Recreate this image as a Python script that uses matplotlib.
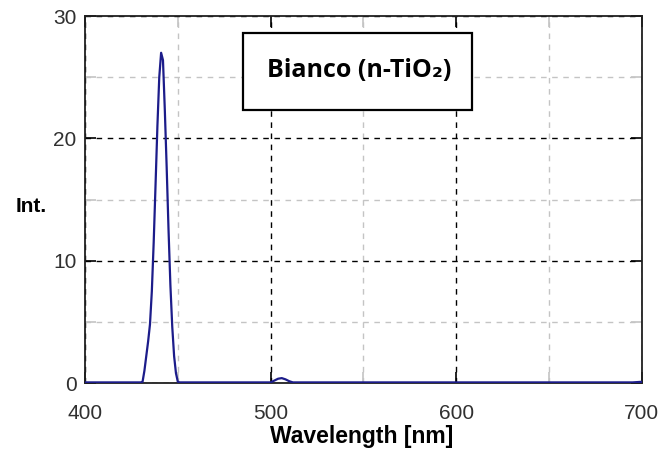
import numpy as np
import matplotlib.pyplot as plt
from matplotlib.patches import Rectangle
from matplotlib.ticker import MultipleLocator

# spectrum (nm, intensity)
wl = [400, 430, 431, 432, 433, 434, 435, 436, 437, 438, 439, 440, 441, 442,
      443, 444, 445, 446, 447, 448, 449, 450, 451, 500, 502, 504, 506, 508,
      510, 512, 690, 695, 700]
inten = [0.05, 0.05, 0.1, 1.0, 2.2, 3.4, 4.8, 7.5, 11.5, 16.2, 21.0, 25.0, 27.0,
         26.4, 22.3, 17.6, 12.5, 8.0, 4.6, 2.2, 0.8, 0.1, 0.05, 0.05, 0.2,
         0.35, 0.4, 0.3, 0.15, 0.05, 0.05, 0.05, 0.1]

title_txt = "Bianco (n-TiO\u2082)"

plt.rcParams["font.family"] = ["Liberation Sans", "DejaVu Sans"]

fig = plt.figure(figsize=(6.59, 4.53), dpi=100)
ax = fig.add_axes([0.129, 0.1545, 0.845, 0.810])

ax.plot(wl, inten, color="#1c1c8a", lw=1.6, zorder=3)

ax.set_xlim(400, 700)
ax.set_ylim(0, 30)
ax.xaxis.set_major_locator(MultipleLocator(100))
ax.xaxis.set_minor_locator(MultipleLocator(50))
ax.yaxis.set_major_locator(MultipleLocator(10))
ax.yaxis.set_minor_locator(MultipleLocator(5))

ax.grid(which="major", color="black", ls=(0, (4, 4)), lw=1.0)
ax.grid(which="minor", color="#c4c4c4", ls=(0, (4, 4)), lw=1.0)

ax.tick_params(which="both", direction="in", top=True, right=True,
               labelsize=15, labelcolor="#303030", width=1.2)
ax.tick_params(which="major", length=8, color="black")
ax.tick_params(which="minor", length=8, color="#c4c4c4")
ax.tick_params(axis="x", pad=15)
ax.tick_params(axis="y", pad=6)

for s in ax.spines.values():
    s.set_linewidth(1.3)
    s.set_color("#202020")

fig.text(362 / 659, 1 - 437 / 453, "Wavelength [nm]", fontsize=16.5,
         fontweight="bold", ha="center", va="center")
fig.text(31 / 659, 1 - 207 / 453, "Int.", fontsize=15, fontweight="bold",
         ha="center", va="center")

# label box
ax.add_patch(Rectangle((0.2837, 0.7439), 0.4111, 0.2098, transform=ax.transAxes,
                       fc="white", ec="black", lw=1.6, zorder=5))
ax.text(0.492, 0.852, title_txt, transform=ax.transAxes, ha="center",
        va="center", fontsize=18, fontweight="bold",
        family=["Open Sans", "DejaVu Sans"], zorder=6)

fig.savefig("out.png", dpi=100)
